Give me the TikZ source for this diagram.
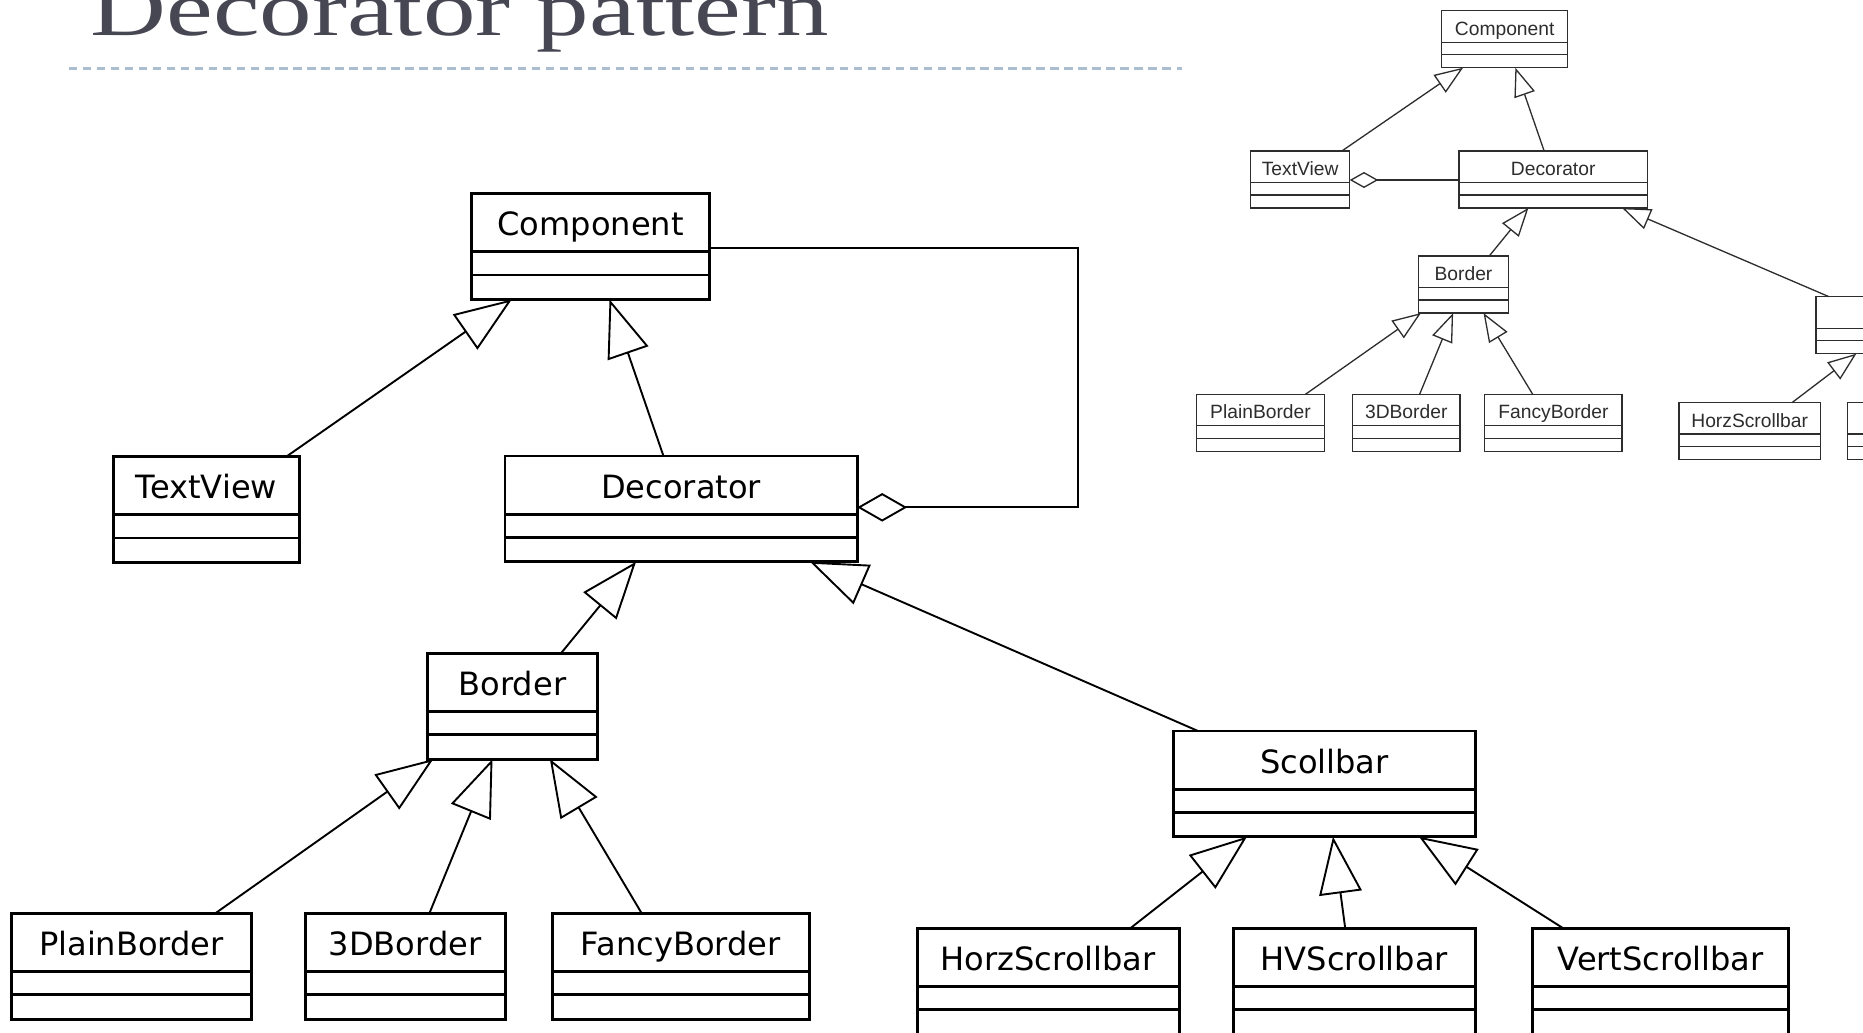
\documentclass[tikz,border=0pt]{standalone}
\usepackage{fontspec}
\usetikzlibrary{arrows.meta,calc}
\newfontfamily\umlfont{DejaVu Sans}
\newfontfamily\thumbfont{Liberation Sans}
\newfontfamily\headfont{Liberation Serif}
\definecolor{titlegray}{RGB}{71,71,84}
\definecolor{rulegray}{RGB}{170,190,208}
\definecolor{thumbink}{RGB}{45,45,45}

\tikzset{
  % large class boxes
  bigbox/.style={draw, line width=2.4pt, inner sep=0pt, outer sep=0pt,
    minimum height=89pt, anchor=north west},
  bigdiv/.style={line width=2.4pt},
  biglabel/.style={font={\umlfont\fontsize{27}{30}\selectfont}, anchor=base, inner sep=0pt},
  inherit/.style={line width=1.6pt,
    -{Triangle[open, length=48pt, width=36pt, line width=1.6pt]}},
  aggr/.style={line width=1.6pt,
    {Diamond[open, length=42pt, width=24pt, line width=1.6pt]}-},
  % small overview diagram
  smallbox/.style={draw=thumbink, line width=1.1pt, inner sep=0pt, outer sep=0pt,
    minimum height=48pt, anchor=north west},
  smalldiv/.style={draw=thumbink, line width=1.1pt},
  smalllabel/.style={font={\thumbfont\fontsize{16.2}{18}\selectfont}, text=thumbink,
    anchor=base, inner sep=0pt},
  sinherit/.style={draw=thumbink, line width=1.1pt,
    -{Triangle[open, length=24pt, width=18pt, line width=1.1pt]}},
  saggr/.style={draw=thumbink, line width=1.1pt,
    {Diamond[open, length=24pt, width=13.5pt, line width=1.1pt]}-},
}

% #1 name, #2 left x, #3 top y, #4 right x, #5 label
\newcommand\bigclass[5]{%
  \node[bigbox, minimum width={#4-#2}] (#1) at (#2,#3) {};
  \draw[bigdiv] ($(#1.north west)+(0,49)$) -- ($(#1.north east)+(0,49)$);
  \draw[bigdiv] ($(#1.north west)+(0,68.5)$) -- ($(#1.north east)+(0,68.5)$);
  \node[biglabel] (#1-name) at ($(#1.north)+(0,35.5)$) {#5};
}
\newcommand\smallclass[5]{%
  \node[smallbox, minimum width={#4-#2}] (#1) at (#2,#3) {};
  \draw[smalldiv] ($(#1.north west)+(0,26.5)$) -- ($(#1.north east)+(0,26.5)$);
  \draw[smalldiv] ($(#1.north west)+(0,37)$) -- ($(#1.north east)+(0,37)$);
  \node[smalllabel] (#1-name) at ($(#1.north)+(0,20.5)$) {#5};
}

\begin{document}
\begin{tikzpicture}[x=1pt, y=-1pt]
  \useasboundingbox (0,0) rectangle (1568,869);
  \clip (0,0) rectangle (1568,869);
  \fill[white] (0,0) rectangle (1568,869);

  % heading and its dotted rule
  \node[anchor=base west, inner sep=0pt, text=titlegray,
        font={\headfont\fontsize{66}{70}\selectfont}] (title) at (76,29.5)
        {\scalebox{1.34}[1]{Decorator pattern}};
  \coordinate (rule-l) at (58,57.5);
  \coordinate (rule-r) at (995,57.5);
  \draw[rulegray, line width=2.2pt, dash pattern=on 7pt off 4.8pt] (rule-l) -- (rule-r);

  % ---------------- main class diagram ----------------
  \bigclass{comp}{397}{163}{597}{Component}
  \bigclass{tv}{95.3}{384.3}{252.3}{TextView}
  \bigclass{dec}{425}{383.8}{721.5}{Decorator}
  \bigclass{border}{359.6}{549.9}{503}{Border}
  \bigclass{scb}{987.5}{615.2}{1241.8}{Scollbar}
  \bigclass{pb}{9.7}{768.7}{211.6}{PlainBorder}
  \bigclass{tdb}{257}{768.7}{425.1}{3DBorder}
  \bigclass{fb}{464.7}{768.7}{681.1}{FancyBorder}
  \bigclass{hs}{771.9}{781.3}{992.7}{HorzScrollbar}
  \bigclass{hv}{1038.1}{781.3}{1241.8}{HVScrollbar}
  \bigclass{vs}{1289.9}{781.3}{1505.4}{VertScrollbar}

  \draw[inherit] ($(tv.north west)+(145.7,0)$) -- ($(comp.south west)+(33.8,0)$);
  \draw[inherit] ($(dec.north west)+(133.4,0)$) -- ($(comp.south west)+(116,0)$);
  \draw[aggr] ($(dec.north east)+(0,43.2)$) -- ++(185.5,0) |- ($(comp.north east)+(0,45.4)$);
  \draw[inherit] ($(border.north west)+(112.5,0)$) -- ($(dec.south west)+(110.3,0)$);
  \draw[inherit] ($(scb.north west)+(20.7,0)$) -- ($(dec.south west)+(256.7,0)$);
  \draw[inherit] ($(pb.north west)+(171.5,0)$) -- ($(border.south west)+(5.1,0)$);
  \draw[inherit] ($(tdb.north west)+(104.4,0)$) -- ($(border.south west)+(54.9,0)$);
  \draw[inherit] ($(fb.north west)+(75.4,0)$) -- ($(border.south west)+(103.2,0)$);
  \draw[inherit] ($(hs.north west)+(179.4,0)$) -- ($(scb.south west)+(62,0)$);
  \draw[inherit] ($(hv.north west)+(94.1,0)$) -- ($(scb.south west)+(134.4,0)$);
  \draw[inherit] ($(vs.north west)+(25.8,0)$) -- ($(scb.south west)+(206.8,0)$);

  % ---------------- small overview diagram ----------------
  \smallclass{s-comp}{1213.4}{9}{1319.4}{Component}
  \smallclass{s-tv}{1052.5}{127}{1136}{TextView}
  \smallclass{s-dec}{1228}{127}{1386.5}{Decorator}
  \smallclass{s-border}{1193.6}{215.5}{1269.9}{Border}
  \smallclass{s-scb}{1528.4}{249.7}{1663}{}
  \smallclass{s-pb}{1007}{331.9}{1114.8}{PlainBorder}
  \smallclass{s-tdb}{1138.3}{331.9}{1228.8}{3DBorder}
  \smallclass{s-fb}{1249.7}{331.9}{1365.2}{FancyBorder}
  \smallclass{s-hs}{1413.2}{338.9}{1532}{HorzScrollbar}
  \smallclass{s-hv}{1555.1}{338.9}{1660}{}

  \draw[sinherit] ($(s-tv.north west)+(77,0)$) -- ($(s-comp.south west)+(18,0)$);
  \draw[sinherit] ($(s-dec.north west)+(71.6,0)$) -- ($(s-comp.south west)+(62,0)$);
  \draw[saggr] ($(s-tv.north east)+(0,24.5)$) -- ($(s-dec.north west)+(0,24.5)$);
  \draw[sinherit] ($(s-border.north west)+(59.8,0)$) -- ($(s-dec.south west)+(58.4,0)$);
  \draw[sinherit] ($(s-scb.north west)+(10.9,0)$) -- ($(s-dec.south west)+(137.2,0)$);
  \draw[sinherit] ($(s-pb.north west)+(91.7,0)$) -- ($(s-border.south west)+(2.3,0)$);
  \draw[sinherit] ($(s-tdb.north west)+(56.5,0)$) -- ($(s-border.south west)+(29.4,0)$);
  \draw[sinherit] ($(s-fb.north west)+(40.3,0)$) -- ($(s-border.south west)+(55,0)$);
  \draw[sinherit] ($(s-hs.north west)+(95,0)$) -- ($(s-scb.south west)+(34,0)$);
\end{tikzpicture}
\end{document}
